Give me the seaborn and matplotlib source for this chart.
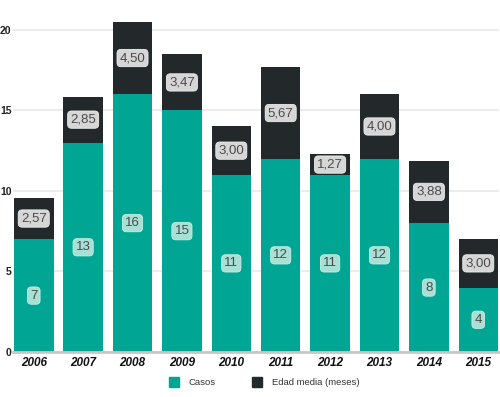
import pandas as pd
import seaborn as sns
import matplotlib.pyplot as plt
from matplotlib.patches import Patch

sns.set_style("white")
plt.rcParams['font.family'] = ['Liberation Sans', 'DejaVu Sans']

# data
years = ['2006', '2007', '2008', '2009', '2010', '2011', '2012', '2013', '2014', '2015']
casos = [7, 13, 16, 15, 11, 12, 11, 12, 8, 4]
edad_media = [2.57, 2.85, 4.50, 3.47, 3.00, 5.67, 1.27, 4.00, 3.88, 3.00]

teal = '#00a693'
dark = '#23292b'

df = pd.DataFrame({'year': years, 'casos': casos, 'edad': edad_media})
df['total'] = df['casos'] + df['edad']

fig = plt.figure(figsize=(5, 3.97), dpi=100)
ax = fig.add_axes([0.026, 0.1134, 0.972, 0.852])

# stacked: total first (dark), casos on top of it (teal)
sns.barplot(data=df, x='year', y='total', color=dark, saturation=1, width=0.8,
            linewidth=0, ax=ax)
sns.barplot(data=df, x='year', y='casos', color=teal, saturation=1, width=0.8,
            linewidth=0, ax=ax)

ax.set_xlim(-0.42, 9.42)
ax.set_ylim(0, 21)
ax.set_yticks([0, 5, 10, 15, 20])
ax.yaxis.grid(True, color='#ececec', linewidth=1.5)
ax.set_axisbelow(True)
for s in ['top', 'right', 'left']:
    ax.spines[s].set_visible(False)
ax.spines['bottom'].set_color('#c8c8c8')
ax.spines['bottom'].set_linewidth(2)
ax.set_xlabel('')
ax.set_ylabel('')
ax.tick_params(axis='both', length=0)
ax.tick_params(axis='y', pad=1)
for lbl in ax.get_yticklabels():
    lbl.set_fontsize(7.5)
    lbl.set_fontweight('bold')
    lbl.set_color('#222222')
for lbl in ax.get_xticklabels():
    lbl.set_fontsize(8.5)
    lbl.set_fontweight('bold')
    lbl.set_fontstyle('italic')
    lbl.set_color('#111111')

lab_kw = dict(ha='center', va='center', fontsize=9.5, color='#4a4a4a')
for i, row in df.iterrows():
    ax.text(i, row['casos'] / 2, f"{row['casos']:d}", **lab_kw,
            bbox=dict(boxstyle='round,pad=0.2,rounding_size=0.3', fc='#a9e0d6',
                      ec='#c9eee7', lw=0.6))
    ax.text(i, row['casos'] + row['edad'] / 2, f"{row['edad']:.2f}".replace('.', ','),
            **lab_kw,
            bbox=dict(boxstyle='round,pad=0.2,rounding_size=0.3', fc='#d6d6d6',
                      ec='#eeeeee', lw=0.6))

handles = [Patch(color=teal, label='Casos'), Patch(color=dark, label='Edad media (meses)')]
fig.legend(handles=handles, loc='center', bbox_to_anchor=(0.528, 0.038), ncol=2,
           frameon=False, fontsize=6.8, handlelength=1.1, handleheight=1.2,
           handletextpad=1.0, columnspacing=3.8, labelcolor='#333333')

fig.savefig('out.png', dpi=100)
